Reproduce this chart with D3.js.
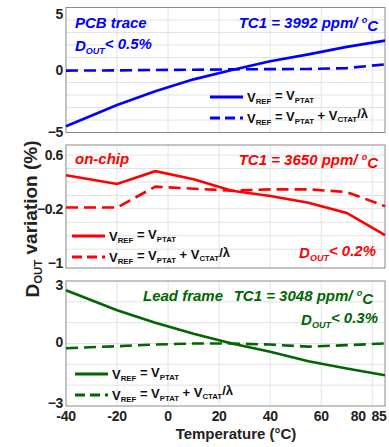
<!DOCTYPE html>
<html><head><meta charset="utf-8">
<script src="https://cdn.jsdelivr.net/npm/d3@7"></script>
<style>body{margin:0;background:#fff}svg{display:block}text{font-family:"Liberation Sans",Arial,sans-serif;font-weight:bold}</style>
</head><body><svg id="c" width="389" height="447"></svg>
<script>
const temps = [-40, -20, -5, 10, 25, 40, 55, 70, 85];
const xTicks = [-40, -20, 0, 20, 40, 60, 80, 85];
const pcbPtat = [-4.5, -2.8, -1.7, -0.75, 0.0, 0.7, 1.25, 1.85, 2.35];
const pcbComp = [-0.05, -0.03, 0.0, 0.02, 0.05, 0.07, 0.08, 0.15, 0.45];
const chipPtat = [0.30, 0.17, 0.36, 0.24, 0.07, -0.01, -0.11, -0.26, -0.59];
const chipComp = [-0.18, -0.18, 0.13, 0.10, 0.07, 0.09, 0.09, 0.05, -0.16];
const leadPtat = [2.56, 1.6, 1.0, 0.47, 0.0, -0.4, -0.85, -1.2, -1.52];
const leadComp = [-0.23, -0.13, -0.05, 0.0, 0.0, -0.05, -0.15, -0.08, 0.0];
const pcbTicks = [5, 0, -5];
const chipTicks = [0.6, -0.2, -1];
const leadTicks = [3, 0, -3];

const svg = d3.select("#c");
const L = 66, R = 385;
const x = d3.scaleLinear().domain([-40, 85]).range([L, R]);

function sub(t, main, s) {
  t.append("tspan").text(main);
  t.append("tspan").text(s).attr("font-size", "0.6em").attr("dy", "0.3em");
}

function panel(o) {
  const y = d3.scaleLinear().domain(o.domain).range([o.bottom, o.top]);
  const g = svg.append("g");
  g.selectAll(".vg").data([-20, 0, 20, 40, 60, 80]).enter().append("line")
    .attr("x1", d => x(d)).attr("x2", d => x(d)).attr("y1", o.top).attr("y2", o.bottom)
    .attr("stroke", "#e2e2e2").attr("stroke-width", 1);
  g.selectAll(".hg").data(o.grid).enter().append("line")
    .attr("x1", L).attr("x2", R).attr("y1", d => y(d)).attr("y2", d => y(d))
    .attr("stroke", "#e2e2e2").attr("stroke-width", 1);
  g.append("rect").attr("x", L).attr("y", o.top).attr("width", R - L).attr("height", o.bottom - o.top)
    .attr("fill", "none").attr("stroke", "#8a8a8a").attr("stroke-width", 1);
  const ya = d3.axisLeft(y).tickValues(o.ticks).tickSize(0).tickPadding(3).tickFormat(d3.format(""));
  const ag = g.append("g").attr("transform", `translate(${L},0)`).call(ya);
  ag.select(".domain").remove();
  ag.selectAll("text").attr("font-size", 14).attr("fill", "#222").attr("font-family", "Liberation Sans, Arial")
    .attr("font-weight", "bold").attr("letter-spacing", "-0.4px")
    .attr("dy", (d, i) => o.labelDy[i]);
  const line = d3.line().x((d, i) => x(temps[i])).y(d => y(d));
  g.append("path").datum(o.ptat).attr("d", line).attr("fill", "none").attr("stroke", o.color).attr("stroke-width", 2.6);
  g.append("path").datum(o.comp).attr("d", line).attr("fill", "none").attr("stroke", o.color).attr("stroke-width", 2.6)
    .attr("stroke-dasharray", "12,6");
  const lx = o.legend[0], ly = o.legend[1];
  g.append("line").attr("x1", lx).attr("x2", lx + 33).attr("y1", ly).attr("y2", ly).attr("stroke", o.color).attr("stroke-width", 3);
  g.append("line").attr("x1", lx).attr("x2", lx + 33).attr("y1", ly + 21).attr("y2", ly + 21).attr("stroke", o.color).attr("stroke-width", 3).attr("stroke-dasharray", "10,5");
  let t = g.append("text").attr("x", lx + 37).attr("y", ly + 5).attr("font-size", 13).attr("fill", "#111");
  sub(t, "V", "REF"); t.append("tspan").attr("dy", "-0.3em").text(" = V"); sub(t, "", "PTAT");
  t = g.append("text").attr("x", lx + 37).attr("y", ly + 26).attr("font-size", 13).attr("fill", "#111");
  sub(t, "V", "REF"); t.append("tspan").attr("dy", "-0.3em").text(" = V"); sub(t, "", "PTAT");
  t.append("tspan").attr("dy", "-0.3em").text(" + V"); sub(t, "", "CTAT"); t.append("tspan").attr("dy", "-0.3em").text("/λ");
  return g;
}

function label(txt, xx, yy, color, anchor) {
  return svg.append("text").attr("x", xx).attr("y", yy).attr("fill", color).attr("font-size", 15)
    .attr("font-style", "italic").attr("text-anchor", anchor || "start").text(txt);
}
function dout(xx, yy, color, val, anchor) {
  const t = svg.append("text").attr("x", xx).attr("y", yy).attr("fill", color).attr("font-size", 15)
    .attr("font-style", "italic").attr("text-anchor", anchor || "start");
  sub(t, "D", "OUT"); t.append("tspan").attr("dy", "-0.3em").text("< " + val);
}
function tc(txt, xx, yy, color) {
  const t = svg.append("text").attr("x", xx).attr("y", yy).attr("fill", color).attr("font-size", 15)
    .attr("font-style", "italic").attr("text-anchor", "end");
  t.append("tspan").text(txt + " ppm/ ");
  t.append("tspan").text("o").attr("font-size", "0.6em").attr("dy", "-0.55em");
  t.append("tspan").text("C").attr("dy", "0.55em");
}

panel({domain: [-5, 5], top: 7.5, bottom: 132.5, ticks: pcbTicks, labelDy: ["0.75em", "0.32em", "0.25em"],
  grid: d3.range(-4, 5, 1), ptat: pcbPtat, comp: pcbComp, color: "#0000ff", legend: [210, 97]});
panel({domain: [-1.08, 0.75], top: 145, bottom: 268, ticks: chipTicks, labelDy: ["0.32em", "0.32em", "0.32em"],
  grid: [-0.8, -0.6, -0.4, -0.2, 0, 0.2, 0.4, 0.6], ptat: chipPtat, comp: chipComp, color: "#ff0000", legend: [72, 236]});
panel({domain: [-3, 3], top: 281, bottom: 406, ticks: leadTicks, labelDy: ["0.6em", "0.2em", "0.1em"],
  grid: [-2, -1, 0, 1, 2], ptat: leadPtat, comp: leadComp, color: "#006600", legend: [75, 374]});

label("PCB trace", 75, 28, "#0000ff");
dout(75, 51, "#0000ff", "0.5%");
tc("TC1 = 3992", 378, 28, "#0000ff");

label("on-chip", 75, 164, "#ff0000");
tc("TC1 = 3650", 378, 165, "#ff0000");
dout(376, 258, "#ff0000", "0.2%", "end");

label("Lead frame", 143, 301, "#006600");
tc("TC1 = 3048", 373, 301, "#006600");
dout(378, 325, "#006600", "0.3%", "end");

const labelShift = {80: -14, 85: -6};
svg.selectAll(".xt").data(xTicks).enter().append("text")
  .attr("x", d => x(d) + (labelShift[d] || 0)).attr("y", 421).attr("text-anchor", "middle")
  .attr("font-size", 14).attr("letter-spacing", "-0.3px").attr("fill", "#222").text(d => d);
svg.append("text").attr("x", 236).attr("y", 439).attr("text-anchor", "middle").attr("font-size", 15)
  .attr("fill", "#222").text("Temperature (°C)");
const yl = svg.append("text").attr("transform", "translate(39,219) rotate(-90)").attr("text-anchor", "middle")
  .attr("font-size", 19).attr("fill", "#222");
sub(yl, "D", "OUT"); yl.append("tspan").attr("dy", "-0.3em").text(" variation (%)");
</script></body></html>
